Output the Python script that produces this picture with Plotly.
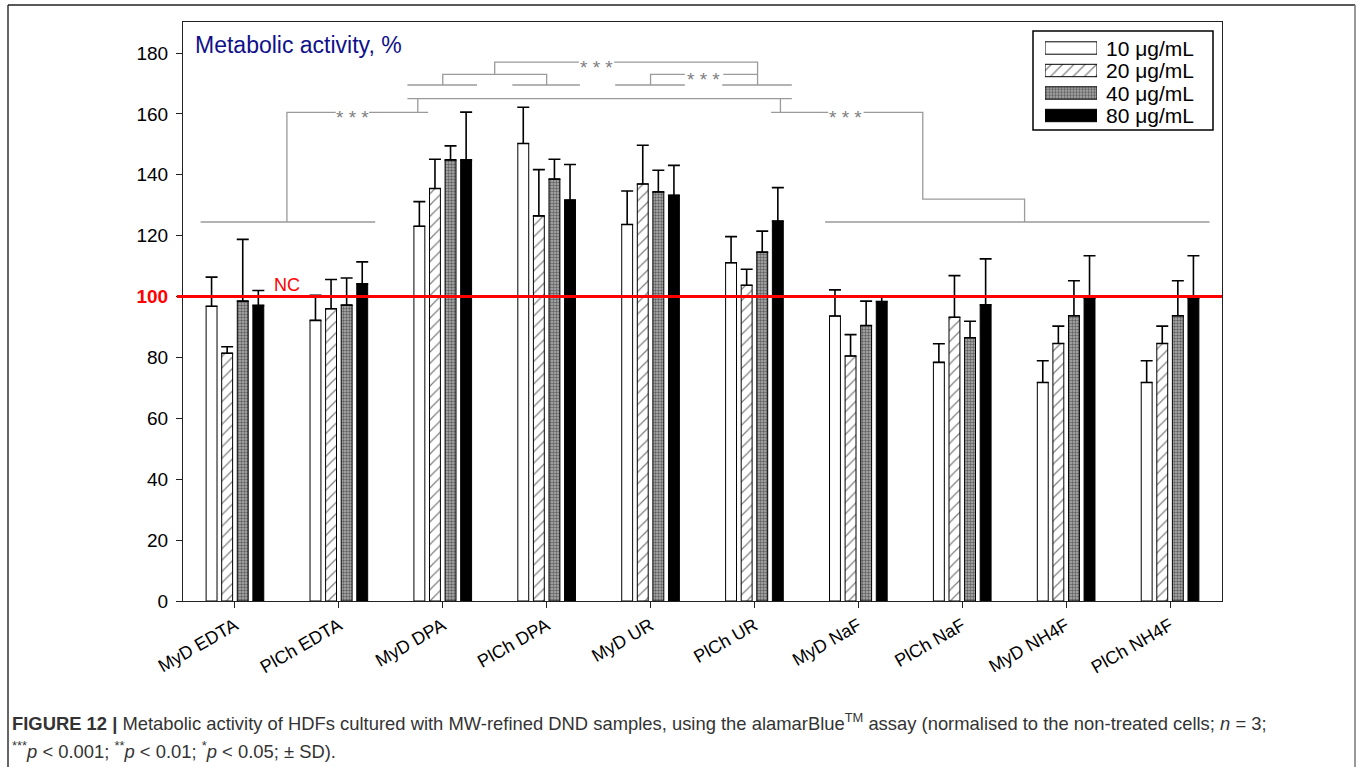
import plotly.graph_objects as go

# ---------------- data ----------------
categories = ["MyD EDTA", "PlCh EDTA", "MyD DPA", "PlCh DPA", "MyD UR",
              "PlCh UR", "MyD NaF", "PlCh NaF", "MyD NH4F", "PlCh NH4F"]
series_names = ["10 μg/mL", "20 μg/mL", "40 μg/mL", "80 μg/mL"]

c10 = [96.8, 92.2, 123.1, 150.3, 123.7, 111.1, 93.6, 78.4, 71.8, 71.8]
c10_sd = [9.6, 8.2, 8.1, 11.9, 11.0, 8.6, 8.6, 6.1, 7.1, 7.1]
c20 = [81.4, 96.0, 135.5, 126.5, 137.0, 103.7, 80.5, 93.2, 84.6, 84.6]
c20_sd = [2.1, 9.6, 9.6, 15.2, 12.7, 5.3, 7.0, 13.7, 5.7, 5.7]
c40 = [98.5, 97.2, 144.9, 138.6, 134.4, 114.6, 90.5, 86.5, 93.7, 93.7]
c40_sd = [20.3, 8.9, 4.6, 6.5, 7.1, 6.9, 8.0, 5.4, 11.5, 11.5]
c80 = [97.1, 104.2, 144.9, 131.7, 133.3, 124.8, 98.4, 97.3, 99.5, 99.5]
c80_sd = [4.9, 7.2, 15.7, 11.7, 9.8, 11.0, 1.7, 15.1, 13.9, 13.9]

series_values = [c10, c20, c40, c80]
series_sd = [c10_sd, c20_sd, c40_sd, c80_sd]

nc_level = 100
y_tick_values = [0, 20, 40, 60, 80, 100, 120, 140, 160, 180]

# significance brackets: paths in (category index, %) units
bracket_paths = [
    [(-0.33, 124.5), (1.35, 124.5)],
    [(0.5, 124.5), (0.5, 160.5), (0.97, 160.5)],
    [(1.29, 160.5), (1.86, 160.5)],
    [(1.76, 160.5), (1.76, 165)],
    [(1.66, 165), (5.36, 165)],
    [(5.25, 165), (5.25, 160.5)],
    [(5.16, 160.5), (5.71, 160.5)],
    [(6.05, 160.5), (6.62, 160.5), (6.62, 132), (7.6, 132), (7.6, 124.5)],
    [(5.68, 124.5), (9.38, 124.5)],
    [(1.66, 169.5), (2.33, 169.5)],
    [(2.67, 169.5), (3.32, 169.5)],
    [(3.66, 169.5), (4.33, 169.5)],
    [(4.69, 169.5), (5.36, 169.5)],
    [(2.0, 169.5), (2.0, 173), (3.0, 173), (3.0, 169.5)],
    [(2.5, 173), (2.5, 177), (3.31, 177)],
    [(3.65, 177), (5.03, 177), (5.03, 169.5)],
    [(4.0, 169.5), (4.0, 173), (4.33, 173)],
    [(4.70, 173), (5.03, 173)],
]
star_positions = [(1.13, 160.5), (5.88, 160.5), (3.48, 177), (4.51, 173)]

# ---------------- styling ----------------
FONT = "Liberation Sans, Arial, sans-serif"
W, H = 1360, 767
ML, MR, MT, MB = 183, 138, 22, 166
PW, PH = W - ML - MR, H - MT - MB


def px(xp):
    return (xp - ML) / PW


def py(yp):
    return (H - MB - yp) / PH


patterns = [
    dict(shape="", fgcolor="black", bgcolor="white"),
    dict(shape="/", fgcolor="black", bgcolor="white", size=8, solidity=0.15),
    dict(shape=".", fgcolor="#111111", bgcolor="#b0b0b0", size=3, solidity=0.5),
    dict(shape="", fgcolor="black", bgcolor="black"),
]
fills = ["white", "white", "#b0b0b0", "black"]

fig = go.Figure()

for name, vals, sd, pat, fc in zip(series_names, series_values, series_sd, patterns, fills):
    fig.add_trace(go.Bar(
        x=categories, y=vals, name=name, showlegend=False,
        marker=dict(color=fc, line=dict(color="black", width=1), pattern=pat),
        error_y=dict(type="data", array=sd, arrayminus=[0] * len(sd), symmetric=False,
                     color="black", thickness=1.6, width=6),
        hoverinfo="skip",
    ))

# bracket lines
bx, by = [], []
for path in bracket_paths:
    for (xx, yy) in path:
        bx.append(xx)
        by.append(yy)
    bx.append(None)
    by.append(None)
fig.add_trace(go.Scatter(x=bx, y=by, mode="lines", line=dict(color="#9a9a9a", width=1.3),
                         showlegend=False, hoverinfo="skip", xaxis="x3", yaxis="y"))

# legend swatches (drawn as horizontal bars on a small inset axis)
for i, (name, pat, fc) in enumerate(zip(series_names, patterns, fills)):
    fig.add_trace(go.Bar(
        x=[1], y=[i], orientation="h", width=0.55, offset=-0.275, showlegend=False,
        marker=dict(color=fc, line=dict(color="black", width=1), pattern=pat),
        xaxis="x2", yaxis="y2", hoverinfo="skip",
    ))

annotations = []
for i, name in enumerate(series_names):
    annotations.append(dict(x=px(1104), xref="paper", y=i, yref="y2", text=name,
                            xanchor="left", yanchor="middle", showarrow=False,
                            font=dict(family=FONT, size=21, color="black")))

for (sx, sy) in star_positions:
    annotations.append(dict(x=sx, xref="x3", y=sy, yref="y", text="* * *", showarrow=False,
                            xanchor="center", yanchor="middle", yshift=-5,
                            font=dict(family=FONT, size=19, color="#808080")))

annotations.append(dict(x=px(193), xref="paper", y=py(45), yref="paper",
                        text="Metabolic activity, %", showarrow=False,
                        xanchor="left", yanchor="middle",
                        font=dict(family=FONT, size=23, color="#10108a")))

annotations.append(dict(x=0.5, xref="x3", y=nc_level, yref="y", text="NC", showarrow=False,
                        xanchor="center", yanchor="bottom", yshift=0,
                        font=dict(family=FONT, size=18, color="red")))

annotations.append(dict(
    x=px(10), xref="paper", y=py(722), yref="paper", xanchor="left", yanchor="middle",
    showarrow=False, align="left",
    text="<b>FIGURE 12 |</b> Metabolic activity of HDFs cultured with MW-refined DND samples, "
         "using the alamarBlue<sup>TM</sup> assay (normalised to the non-treated cells; <i>n</i> = 3;",
    font=dict(family=FONT, size=18.4, color="#333333")))
annotations.append(dict(
    x=px(10), xref="paper", y=py(750), yref="paper", xanchor="left", yanchor="middle",
    showarrow=False, align="left",
    text="<sup>***</sup><i>p</i> &lt; 0.001; <sup>**</sup><i>p</i> &lt; 0.01; "
         "<sup>*</sup><i>p</i> &lt; 0.05; ± SD).",
    font=dict(family=FONT, size=18.4, color="#333333")))

shapes = [
    # NC reference line
    dict(type="line", xref="paper", x0=px(177), x1=1, yref="y", y0=nc_level, y1=nc_level,
         line=dict(color="red", width=3), layer="above"),
    # legend box
    dict(type="rect", xref="paper", yref="paper", x0=px(1033), x1=px(1213), y0=py(130), y1=py(31),
         line=dict(color="black", width=1.5), fillcolor="rgba(0,0,0,0)"),
    # outer figure frame
    dict(type="line", xref="paper", yref="paper", x0=px(8), x1=px(8), y0=py(5), y1=py(775),
         line=dict(color="#333333", width=1.5)),
    dict(type="line", xref="paper", yref="paper", x0=px(8), x1=px(1355), y0=py(5), y1=py(5),
         line=dict(color="#222222", width=1.5)),
    dict(type="line", xref="paper", yref="paper", x0=px(1355), x1=px(1355), y0=py(5), y1=py(775),
         line=dict(color="#777777", width=1.5)),
]

y_tick_text = [('<span style="color:red"><b>%d</b></span>' % v) if v == nc_level else str(v)
               for v in y_tick_values]

fig.update_layout(
    width=W, height=H,
    margin=dict(l=ML, r=MR, t=MT, b=MB, pad=0),
    paper_bgcolor="white", plot_bgcolor="white",
    barmode="group", bargap=0.4, bargroupgap=0.3,
    showlegend=False,
    font=dict(family=FONT, color="black"),
    xaxis=dict(type="category", range=[-0.5, 9.5], showline=True, linecolor="#222222",
               linewidth=1, mirror=True, ticks="outside", ticklen=6, tickcolor="#222222",
               tickangle=-30, tickfont=dict(size=18, color="black"), showgrid=False,
               zeroline=False, fixedrange=True),
    xaxis3=dict(overlaying="x", range=[-0.5, 9.5], visible=False, anchor="y"),
    yaxis=dict(range=[0, 190.2], tickvals=y_tick_values, ticktext=y_tick_text,
               showline=True, linecolor="#222222", linewidth=1, mirror=True,
               ticks="outside", ticklen=6, tickcolor="#222222", ticklabelstandoff=4,
               tickfont=dict(size=19, color="black"), showgrid=False, zeroline=False),
    xaxis2=dict(domain=[px(1045), px(1097)], range=[0, 1], visible=False, anchor="y2"),
    yaxis2=dict(domain=[py(126.75), py(36.75)], range=[3.5, -0.5], visible=False, anchor="x2"),
    annotations=annotations,
    shapes=shapes,
)

fig.write_html("out.html")
